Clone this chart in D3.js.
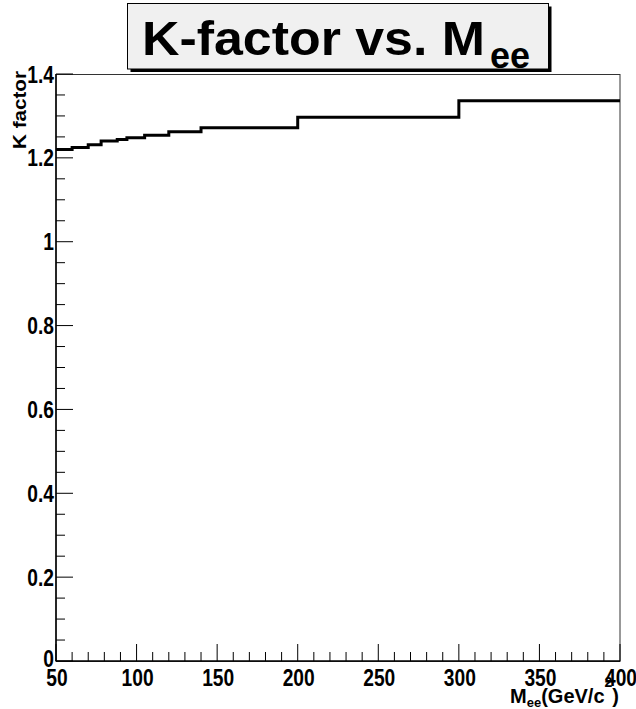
<!DOCTYPE html>
<html>
<head>
<meta charset="utf-8">
<script src="https://cdn.jsdelivr.net/npm/d3@7"></script>
<style>
  html, body { margin: 0; padding: 0; background: #fff; }
  svg { display: block; }
  text { font-family: "Liberation Sans", Arial, Helvetica, sans-serif; font-weight: bold; fill: #000; }
</style>
</head>
<body>
<svg id="chart" width="636" height="709"></svg>
<script>
// ---- data ----
const binEdges = [50, 60, 70, 78, 88, 94, 105, 120, 140, 200, 300, 400];
const kFactor  = [1.220, 1.225, 1.231, 1.240, 1.244, 1.248, 1.254, 1.262, 1.272, 1.297, 1.336];
const xTickLabels = [50, 100, 150, 200, 250, 300, 350, 400];
const yTickLabels = [0, 0.2, 0.4, 0.6, 0.8, 1, 1.2, 1.4];

const svg = d3.select("#chart");
const W = 636, H = 709;
svg.append("rect").attr("width", W).attr("height", H).attr("fill", "#fff");

const x = d3.scaleLinear().domain([50, 400]).range([56, 620]);
const y = d3.scaleLinear().domain([0, 1.4]).range([661, 74]);

// frame
svg.append("rect")
  .attr("x", x(50)).attr("y", y(1.4) + 0.5)
  .attr("width", x(400) - x(50)).attr("height", y(0) - y(1.4))
  .attr("fill", "none").attr("stroke", "#333").attr("stroke-width", 1);

// x ticks (minor every 10, major every 50)
const xMinor = d3.range(50, 401, 10);
svg.append("g").selectAll("line").data(xMinor).join("line")
  .attr("x1", d => x(d)).attr("x2", d => x(d))
  .attr("y1", y(0)).attr("y2", d => y(0) - (d % 50 === 0 ? 17 : 9))
  .attr("stroke", "#000").attr("stroke-width", 1);

// y ticks (minor every 0.05, major every 0.2)
const yMinor = d3.range(0, 29).map(i => i * 0.05);
svg.append("g").selectAll("line").data(yMinor).join("line")
  .attr("y1", d => y(d)).attr("y2", d => y(d))
  .attr("x1", x(50)).attr("x2", (d, i) => x(50) + (i % 4 === 0 ? 17 : 9))
  .attr("stroke", "#000").attr("stroke-width", 1);

// axis lines
svg.append("line").attr("x1", x(50)).attr("x2", x(400)).attr("y1", y(0)).attr("y2", y(0))
  .attr("stroke", "#000").attr("stroke-width", 1.5);
svg.append("line").attr("x1", x(50)).attr("x2", x(50)).attr("y1", y(0)).attr("y2", y(1.4))
  .attr("stroke", "#000").attr("stroke-width", 1.5);

// histogram step line
const pts = binEdges.map((e, i) => [e, i < kFactor.length ? kFactor[i] : kFactor[kFactor.length - 1]]);
const line = d3.line().x(d => x(d[0])).y(d => y(d[1])).curve(d3.curveStepAfter);
svg.append("path").attr("d", line(pts))
  .attr("fill", "none").attr("stroke", "#000").attr("stroke-width", 3);

// x tick labels
svg.append("g").selectAll("text").data(xTickLabels).join("text")
  .attr("transform", d => `translate(${x(d) + 1},686) scale(0.8,1)`)
  .attr("text-anchor", "middle")
  .attr("font-size", 24)
  .text(d => d);

// y tick labels
svg.append("g").selectAll("text").data(yTickLabels).join("text")
  .attr("transform", d => `translate(54,${(d === 0 ? y(d) - 3 : y(d)) + 8.5}) scale(0.8,1)`)
  .attr("text-anchor", "end")
  .attr("font-size", 24)
  .text(d => d);

// y axis title
svg.append("text")
  .attr("transform", `translate(26,71) rotate(-90)`)
  .attr("text-anchor", "end")
  .attr("font-size", 19)
  .attr("textLength", 78)
  .attr("lengthAdjust", "spacingAndGlyphs")
  .text("K factor");

// x axis title
const xt = svg.append("text").attr("x", 619).attr("y", 703).attr("text-anchor", "end").attr("font-size", 20);
xt.append("tspan").text("M");
xt.append("tspan").attr("font-size", 13).attr("dy", 4).text("ee");
xt.append("tspan").attr("dy", -4).text("(GeV/c");
xt.append("tspan").attr("font-size", 14).attr("dy", -16).text("2");
xt.append("tspan").attr("dy", 16).text(")");

// title box with shadow
svg.append("rect").attr("x", 130.5).attr("y", 6.5).attr("width", 421).attr("height", 65.5).attr("fill", "#000");
svg.append("rect").attr("x", 127.5).attr("y", 3.5).attr("width", 421).attr("height", 65.5)
  .attr("fill", "#f0f0f0").attr("stroke", "#000").attr("stroke-width", 1);
svg.append("text").attr("x", 142).attr("y", 55).attr("font-size", 49)
  .attr("textLength", 343).attr("lengthAdjust", "spacingAndGlyphs")
  .text("K-factor vs. M");
svg.append("text").attr("x", 490).attr("y", 68).attr("font-size", 36)
  .attr("textLength", 40).attr("lengthAdjust", "spacingAndGlyphs")
  .text("ee");
</script>
</body>
</html>
